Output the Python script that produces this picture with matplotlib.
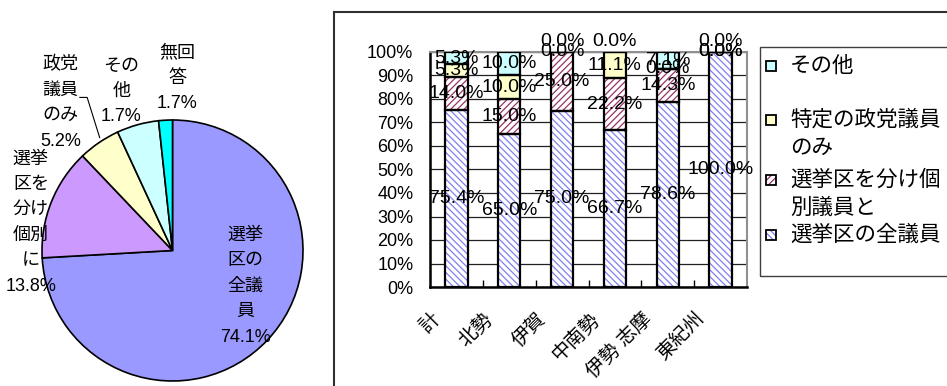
import numpy as np
import matplotlib
matplotlib.use('Agg')
import matplotlib.pyplot as plt
from matplotlib.patches import Rectangle
from matplotlib.lines import Line2D
from matplotlib.transforms import ScaledTranslation, blended_transform_factory

plt.rcParams['font.family'] = ['Liberation Sans', 'Noto Sans CJK JP']
plt.rcParams['hatch.linewidth'] = 0.9

# pie data
pie_labels = ['選挙\n区の\n全議\n員', '選挙\n区を\n分け\n個別\nに', '政党\n議員\nのみ', 'その\n他', '無回\n答']
pie_values = [74.1, 13.8, 5.2, 5.2, 1.7]
pie_pct_text = ['74.1%', '13.8%', '5.2%', '1.7%', '1.7%']

# bar data (stacked bottom -> top)
regions = ['計', '北勢', '伊賀', '中南勢', '伊勢 志摩', '東紀州']
series_names = ['選挙区の全議員', '選挙区を分け個\n別議員と', '特定の政党議員\nのみ', 'その他']
all_members = [75.4, 65.0, 75.0, 66.7, 78.6, 100.0]
split_members = [14.0, 15.0, 25.0, 22.2, 14.3, 0.0]
party_only = [5.3, 10.0, 0.0, 11.1, 0.0, 0.0]
other = [5.3, 10.0, 0.0, 0.0, 7.1, 0.0]
y_ticks = [0, 10, 20, 30, 40, 50, 60, 70, 80, 90, 100]

W, H = 947, 386
fig = plt.figure(figsize=(W / 100, H / 100), dpi=100)

def fx(px):
    return px / W

def fy(py):
    return 1 - py / H

# ---- pie ----
pie_colors = ['#9999FF', '#CC99FF', '#FFFFCC', '#CCFFFF', '#00FFFF']
ax_pie = fig.add_axes([fx(42), fy(381), 261 / W, 261 / H])
ax_pie.pie(pie_values, colors=pie_colors, startangle=90, counterclock=False,
           wedgeprops=dict(edgecolor='black', linewidth=1.2))
ax_pie.set_xlim(-1, 1)
ax_pie.set_ylim(-1, 1)
ax_pie.axis('off')

label_pos = [(0.558, -0.273), (-1.085, 0.215), (-0.858, 1.131), (-0.392, 1.219), (0.038, 1.319)]
for name, pct, (lx, ly) in zip(pie_labels, pie_pct_text, label_pos):
    ax_pie.text(lx, ly, name + '\n' + pct, ha='center', va='center', fontsize=13,
                linespacing=1.65, clip_on=False)
# leader line for 政党議員のみ
ax_pie.plot([-0.71, -0.654, -0.558], [1.173, 1.173, 0.865], color='black', lw=0.8, clip_on=False)

# ---- stacked bars ----
ax = fig.add_axes([fx(430), fy(287), 317 / W, 235 / H])
x = np.arange(len(regions))
series = [all_members, split_members, party_only, other]
faces = ['white', 'white', '#FFFFCC', '#CCFFFF']
hatches = ['\\\\\\\\\\', '/////', None, None]
hatch_colors = ['#8080F0', '#993366', 'black', 'black']
bw = 0.42

bottom = np.zeros(len(regions))
for k, vals in enumerate(series):
    vals = np.array(vals)
    ax.bar(x, vals, width=bw, bottom=bottom, color=faces[k], edgecolor=hatch_colors[k],
           hatch=hatches[k], linewidth=0, zorder=2)
    ax.bar(x, vals, width=bw, bottom=bottom, fill=False, edgecolor='black', linewidth=1.6, zorder=3)
    for i, v in enumerate(vals):
        dy = 7.5 if (k == len(series) - 1 and v == 0) else 0
        ax.annotate(f'{v:.1f}%', (x[i], bottom[i] + v / 2), xytext=(0, dy),
                    textcoords='offset points', ha='center', va='center', fontsize=14, zorder=5)
    bottom += vals

ax.set_xlim(-0.5, len(regions) - 0.5)
ax.set_ylim(0, 100)
ax.set_yticks(y_ticks)
ax.set_yticklabels([f'{t}%' for t in y_ticks])
ax.tick_params(axis='y', length=0, pad=12, labelsize=13)
ax.yaxis.grid(True, color='#202020', linewidth=0.9)
ax.set_axisbelow(True)
ax.set_xticks(x)
ax.set_xticklabels([])
ax.tick_params(axis='x', which='major', length=0)
ax.set_xticks(np.arange(len(regions) - 1) + 0.5, minor=True)
ax.tick_params(axis='x', which='minor', direction='in', length=5, width=1, color='black')
for s in ['top', 'right']:
    ax.spines[s].set_color('#909090')
    ax.spines[s].set_linewidth(1.5)
for s in ['left', 'bottom']:
    ax.spines[s].set_color('black')
    ax.spines[s].set_linewidth(1.8)

lab_trans = blended_transform_factory(ax.transData, ax.transAxes) + \
    ScaledTranslation(-0.19, -0.29, fig.dpi_scale_trans)
for i, name in enumerate(regions):
    ax.text(x[i], 0, name, transform=lab_trans, rotation=45, rotation_mode='anchor',
            ha='right', va='center', fontsize=14, clip_on=False)

# outer chart frame
fig.add_artist(Line2D([fx(334), fx(334)], [0, fy(12)], transform=fig.transFigure, color='#303030', lw=1.5))
fig.add_artist(Line2D([fx(334), 1.0], [fy(12), fy(12)], transform=fig.transFigure, color='#303030', lw=1.5))

# legend (top -> bottom is reverse of stack)
fig.add_artist(Rectangle((fx(760), fy(276)), 200 / W, 229 / H, transform=fig.transFigure,
                         fill=False, edgecolor='#404040', lw=1))
legend_y = [235, 180, 120, 66]
msz = 10
for k in range(len(series)):
    y0 = legend_y[k]
    fig.add_artist(Rectangle((fx(766), fy(y0 + msz / 2)), msz / W, msz / H, transform=fig.transFigure,
                             facecolor=faces[k], edgecolor=hatch_colors[k], hatch=hatches[k], lw=0))
    fig.add_artist(Rectangle((fx(766), fy(y0 + msz / 2)), msz / W, msz / H, transform=fig.transFigure,
                             fill=False, edgecolor='black', lw=1.3))
    for j, line in enumerate(series_names[k].split('\n')):
        fig.text(fx(790), fy(y0 + j * 28.5), line, ha='left', va='center', fontsize=15.5)

fig.savefig('out.png', dpi=100)
